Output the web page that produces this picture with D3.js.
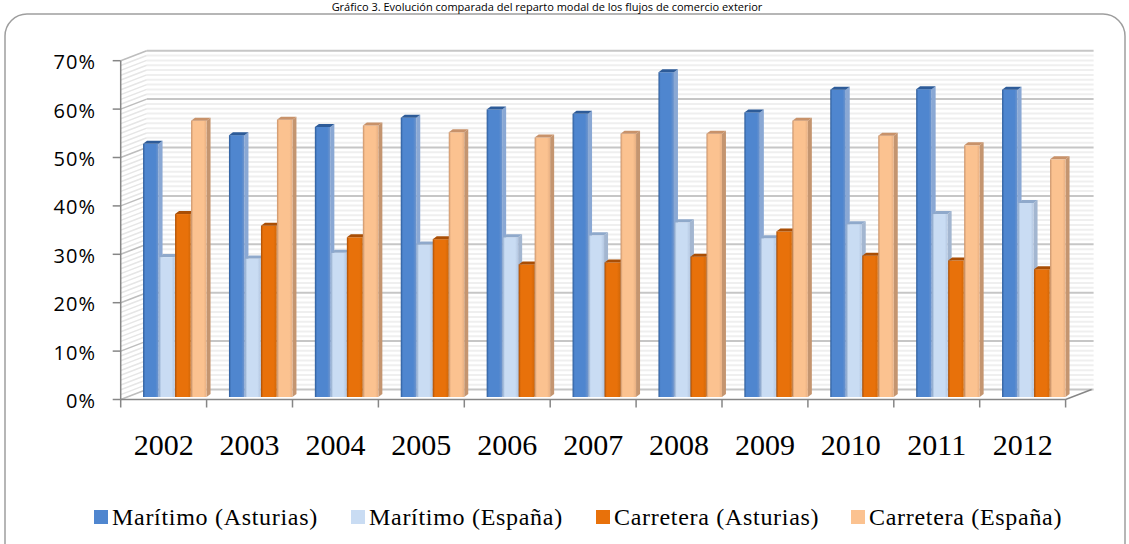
<!DOCTYPE html>
<html>
<head>
<meta charset="utf-8">
<script src="https://cdnjs.cloudflare.com/ajax/libs/d3/7.8.5/d3.min.js"></script>
<style>
    body { margin: 0; background: #ffffff; }
    svg { display: block; }
</style>
</head>
<body>
<svg id="chart" width="1129" height="544"></svg>
<script>
const years = ["2002", "2003", "2004", "2005", "2006", "2007", "2008", "2009", "2010", "2011", "2012"];
const seriesNames = ["Marítimo (Asturias)", "Marítimo (España)", "Carretera (Asturias)", "Carretera (España)"];
const maritimoAsturias = [52.3, 54.1, 55.8, 57.7, 59.4, 58.5, 67.1, 58.8, 63.5, 63.6, 63.5];
const maritimoEspana = [28.9, 28.6, 29.8, 31.5, 33.0, 33.4, 36.1, 32.8, 35.7, 37.8, 40.1];
const carreteraAsturias = [37.8, 35.4, 33.0, 32.6, 27.4, 27.8, 29.0, 34.2, 29.2, 28.2, 26.4];
const carreteraEspana = [57.1, 57.3, 56.1, 54.7, 53.6, 54.4, 54.4, 57.1, 54.0, 52.0, 49.1];
const yTicks = [0, 10, 20, 30, 40, 50, 60, 70];
const title = "Gráfico 3. Evolución comparada del reparto modal de los flujos de comercio exterior";

const allSeries = [maritimoAsturias, maritimoEspana, carreteraAsturias, carreteraEspana];

// colours: main face, top cap, side face, right edge
const palette = [
    { main: "#4F86CF", top: "#2D5B98", side: "#8AA8D4", edge: "#6F95CC" },
    { main: "#C9DCF3", top: "#8FA9CB", side: "#A3B6D0", edge: "#B5C8E2" },
    { main: "#E8710A", top: "#A94E05", side: "#B9600F", edge: "#D46808" },
    { main: "#FBC290", top: "#C8926A", side: "#C49570", edge: "#E8B083" },
];

const svg = d3.select("#chart");

// frame
svg.append("rect")
    .attr("x", 5).attr("y", 14)
    .attr("width", 1120).attr("height", 570)
    .attr("rx", 22).attr("ry", 22)
    .style("fill", "#ffffff")
    .style("stroke", "#9E9E9E")
    .style("stroke-width", "1.5px");

// title squeezed above the frame
svg.append("text")
    .attr("x", 547).attr("y", 11)
    .attr("text-anchor", "middle")
    .style("font-family", "'Open Sans', sans-serif")
    .style("font-size", "11px")
    .style("fill", "#000")
    .text(title);

const frontLeft = 120.7, frontRight = 1065.6;
const depthX = 26, depthY = -10;

const x = d3.scaleBand()
    .domain(years)
    .range([frontLeft, frontRight]);

const y = d3.scaleLinear()
    .domain([0, 70])
    .range([399.5, 60.7]);

const plot = svg.append("g");

// back wall minor stripes every 1%
const minor = d3.range(0, 70, 1).filter(v => v % 10 !== 0);
plot.selectAll(".minor")
    .data(minor)
    .enter()
    .append("line")
    .attr("x1", frontLeft + depthX).attr("x2", frontRight + depthX + 2)
    .attr("y1", d => y(d) + depthY).attr("y2", d => y(d) + depthY)
    .style("stroke", "#EFEFEF")
    .style("stroke-width", "2px");

// side wall stripes
plot.selectAll(".sideMinor")
    .data(minor)
    .enter()
    .append("line")
    .attr("x1", frontLeft).attr("x2", frontLeft + depthX)
    .attr("y1", d => y(d)).attr("y2", d => y(d) + depthY)
    .style("stroke", "#E6E6E6")
    .style("stroke-width", "1.5px");

// major gridlines, back wall and side wall
plot.selectAll(".major")
    .data(yTicks)
    .enter()
    .append("line")
    .attr("x1", frontLeft + depthX).attr("x2", frontRight + depthX + 2)
    .attr("y1", d => y(d) + depthY).attr("y2", d => y(d) + depthY)
    .style("stroke", "#C6C6C6")
    .style("stroke-width", "2px");

plot.selectAll(".sideMajor")
    .data(yTicks)
    .enter()
    .append("line")
    .attr("x1", frontLeft).attr("x2", frontLeft + depthX)
    .attr("y1", d => y(d)).attr("y2", d => y(d) + depthY)
    .style("stroke", "#BDBDBD")
    .style("stroke-width", "1.5px");

// bars
const barShift = 11.4;
const groupX = d3.scaleBand()
    .domain(years)
    .range([frontLeft + barShift, frontRight + barShift])
    .paddingInner(0.255)
    .paddingOuter(0.1275);

const inner = d3.scaleBand()
    .domain(d3.range(4))
    .range([0, groupX.bandwidth()]);

const barBase = 397;
const capX = 4, capY = -3;
const defs = svg.append("defs");

palette.forEach((c, i) => {
    const g = defs.append("linearGradient")
        .attr("id", "grad" + i)
        .attr("x1", "0%").attr("x2", "100%")
        .attr("y1", "0%").attr("y2", "0%");
    g.append("stop").attr("offset", "0%").attr("stop-color", c.top);
    g.append("stop").attr("offset", "14%").attr("stop-color", c.main);
    g.append("stop").attr("offset", "80%").attr("stop-color", c.main);
    g.append("stop").attr("offset", "100%").attr("stop-color", c.edge);
});

years.forEach((year, yi) => {
    allSeries.forEach((series, si) => {
        const c = palette[si];
        const w = inner.bandwidth() - 0.5;
        const x0 = groupX(year) + inner(si);
        const top = barBase - (y(0) - y(series[yi]));
        const bar = plot.append("g").attr("class", "bar");

        bar.append("polygon")
            .attr("points", [
                [x0 + w, top], [x0 + w + capX, top + capY],
                [x0 + w + capX, barBase + capY], [x0 + w, barBase]
            ].join(" "))
            .style("fill", c.side);

        bar.append("rect")
            .attr("x", x0).attr("y", top)
            .attr("width", w).attr("height", barBase - top)
            .style("fill", "url(#grad" + si + ")");

        bar.append("polygon")
            .attr("points", [
                [x0, top], [x0 + capX, top + capY],
                [x0 + w + capX, top + capY], [x0 + w, top]
            ].join(" "))
            .style("fill", c.top);
    });
});

// axes
const axisColor = "#868686";

plot.append("line")
    .attr("x1", frontLeft).attr("x2", frontLeft)
    .attr("y1", y(70)).attr("y2", y(0))
    .style("stroke", axisColor).style("stroke-width", "1.5px");

plot.selectAll(".ytick")
    .data(yTicks)
    .enter()
    .append("line")
    .attr("x1", frontLeft - 8).attr("x2", frontLeft)
    .attr("y1", d => y(d)).attr("y2", d => y(d))
    .style("stroke", axisColor).style("stroke-width", "1.5px");

plot.selectAll(".ylabel")
    .data(yTicks)
    .enter()
    .append("text")
    .attr("x", 96)
    .attr("y", d => y(d) + 8.5)
    .attr("text-anchor", "end")
    .style("font-family", "'Open Sans', sans-serif")
    .style("font-size", "20px")
    .style("letter-spacing", "1px")
    .style("fill", "#000")
    .text(d => d + "%");

plot.append("polyline")
    .attr("points", [
        [frontLeft, y(0)], [frontRight, y(0)],
        [frontRight + depthX, y(0) + depthY]
    ].join(" "))
    .style("fill", "none")
    .style("stroke", axisColor).style("stroke-width", "1.5px");

const xTicks = years.map(d => x(d)).concat([frontRight]);
plot.selectAll(".xtick")
    .data(xTicks)
    .enter()
    .append("line")
    .attr("x1", d => d).attr("x2", d => d)
    .attr("y1", y(0)).attr("y2", y(0) + 8)
    .style("stroke", axisColor).style("stroke-width", "1.5px");

plot.selectAll(".xlabel")
    .data(years)
    .enter()
    .append("text")
    .attr("x", d => x(d) + x.bandwidth() / 2)
    .attr("y", 455)
    .attr("text-anchor", "middle")
    .style("font-family", "'Liberation Serif', serif")
    .style("font-size", "30px")
    .style("fill", "#000")
    .text(d => d);

// legend
const legendX = [94, 351, 596, 851];
const legend = svg.append("g");

seriesNames.forEach((name, i) => {
    legend.append("rect")
        .attr("x", legendX[i]).attr("y", 510)
        .attr("width", 14).attr("height", 14)
        .style("fill", palette[i].main);

    legend.append("text")
        .attr("x", legendX[i] + 18)
        .attr("y", 525)
        .style("font-family", "'Liberation Serif', serif")
        .style("font-size", "24px")
        .style("letter-spacing", "0.7px")
        .style("fill", "#000")
        .text(name);
});
</script>
</body>
</html>
